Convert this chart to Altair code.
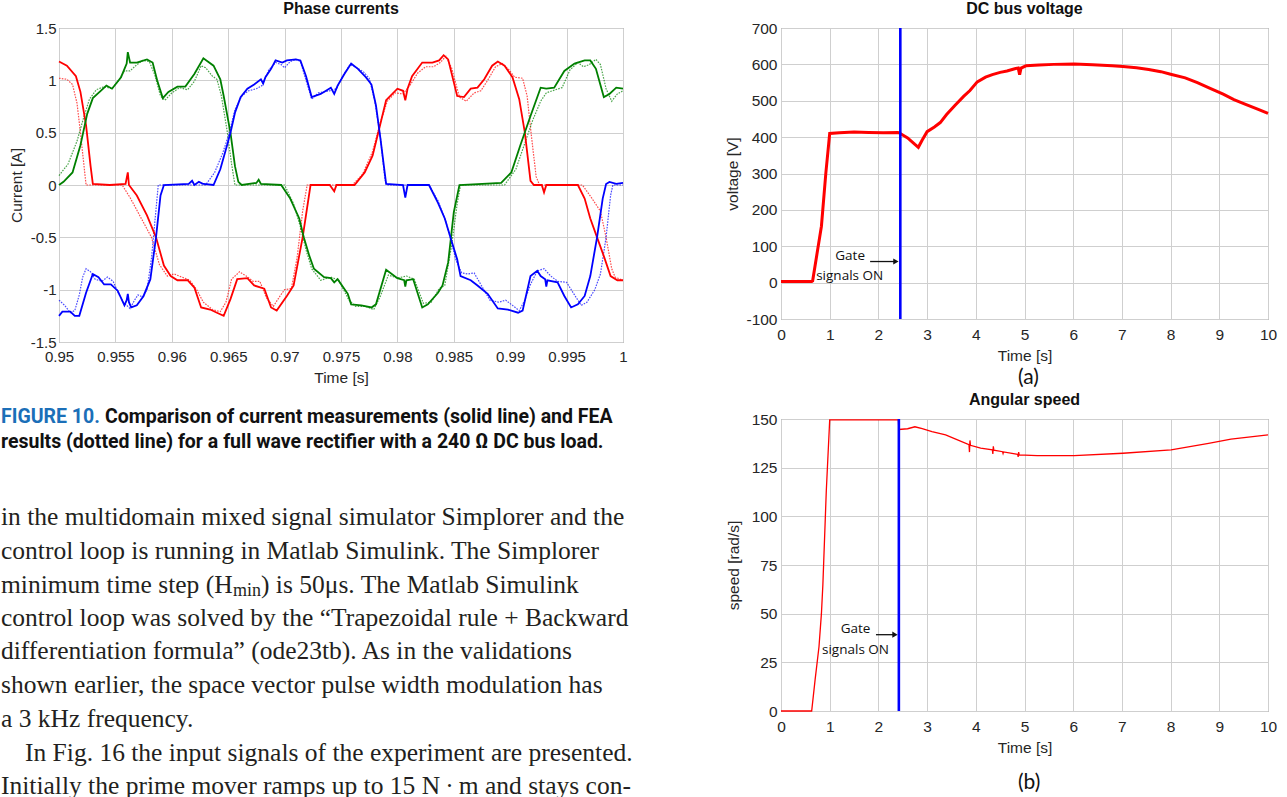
import altair as alt
import pandas as pd

# ---------------- Phase currents (time [s], current [A]) ----------------
red_meas = [[0.9500,1.18],[0.9507,1.14],[0.9515,1.04],[0.9519,0.89],[0.9524,0.57],[0.9528,0.18],[0.9530,0.01],[0.9545,0.00],[0.9559,0.01],[0.9561,0.12],[0.9562,0.00],[0.9569,-0.10],[0.9578,-0.29],[0.9586,-0.50],[0.9593,-0.77],[0.9599,-0.87],[0.9605,-0.91],[0.9614,-0.91],[0.9620,-0.98],[0.9626,-1.17],[0.9634,-1.19],[0.9640,-1.22],[0.9646,-1.25],[0.9652,-1.09],[0.9658,-0.90],[0.9667,-0.89],[0.9673,-0.96],[0.9682,-0.99],[0.9688,-1.17],[0.9693,-1.20],[0.9702,-1.06],[0.9708,-0.96],[0.9716,-0.50],[0.9723,0.00],[0.9740,0.00],[0.9744,-0.06],[0.9746,0.00],[0.9762,0.00],[0.9771,0.12],[0.9778,0.28],[0.9783,0.50],[0.9790,0.81],[0.9800,0.92],[0.9805,0.90],[0.9807,0.81],[0.9809,0.92],[0.9813,1.04],[0.9822,1.17],[0.9831,1.17],[0.9837,1.19],[0.9841,1.24],[0.9845,1.20],[0.9853,0.85],[0.9859,0.84],[0.9865,0.92],[0.9871,0.93],[0.9877,1.01],[0.9884,1.14],[0.9889,1.18],[0.9895,1.14],[0.9902,1.03],[0.9908,0.82],[0.9913,0.50],[0.9918,0.04],[0.9921,0.00],[0.9928,0.00],[0.9930,-0.07],[0.9932,0.00],[0.9960,0.00],[0.9966,-0.13],[0.9971,-0.32],[0.9977,-0.50],[0.9983,-0.68],[0.9989,-0.87],[0.9995,-0.91],[1.0000,-0.91]]
green_meas = [[0.9500,0.00],[0.9504,0.03],[0.9512,0.12],[0.9519,0.38],[0.9525,0.68],[0.9530,0.83],[0.9537,0.90],[0.9542,0.95],[0.9547,0.92],[0.9555,1.03],[0.9560,1.16],[0.9561,1.27],[0.9563,1.17],[0.9569,1.17],[0.9578,1.20],[0.9583,1.17],[0.9587,1.00],[0.9592,0.83],[0.9597,0.89],[0.9605,0.94],[0.9612,0.94],[0.9620,1.06],[0.9628,1.21],[0.9637,1.14],[0.9643,1.01],[0.9646,0.85],[0.9652,0.50],[0.9656,0.18],[0.9659,0.03],[0.9662,0.00],[0.9675,0.02],[0.9677,0.05],[0.9679,0.01],[0.9697,0.00],[0.9705,-0.13],[0.9713,-0.32],[0.9717,-0.50],[0.9722,-0.68],[0.9726,-0.80],[0.9735,-0.88],[0.9741,-0.89],[0.9744,-0.93],[0.9747,-0.90],[0.9756,-1.04],[0.9759,-1.14],[0.9768,-1.15],[0.9777,-1.17],[0.9781,-1.14],[0.9790,-0.81],[0.9800,-0.89],[0.9806,-0.91],[0.9807,-0.97],[0.9808,-0.91],[0.9814,-0.90],[0.9822,-1.17],[0.9827,-1.14],[0.9836,-1.03],[0.9840,-0.96],[0.9845,-0.74],[0.9850,-0.26],[0.9855,0.00],[0.9892,0.02],[0.9901,0.12],[0.9909,0.38],[0.9918,0.66],[0.9927,0.93],[0.9932,0.92],[0.9939,0.93],[0.9948,1.09],[0.9957,1.16],[0.9966,1.19],[0.9971,1.19],[0.9976,1.11],[0.9983,0.84],[0.9988,0.87],[0.9994,0.93],[1.0000,0.92]]
blue_meas = [[0.9500,-1.25],[0.9503,-1.21],[0.9510,-1.21],[0.9514,-1.25],[0.9518,-1.25],[0.9524,-1.03],[0.9530,-0.85],[0.9535,-0.88],[0.9540,-0.95],[0.9546,-0.95],[0.9552,-1.01],[0.9558,-1.15],[0.9560,-1.10],[0.9561,-1.04],[0.9562,-1.12],[0.9564,-1.17],[0.9569,-1.15],[0.9575,-1.06],[0.9581,-0.90],[0.9586,-0.50],[0.9590,-0.10],[0.9593,0.00],[0.9615,0.01],[0.9618,0.04],[0.9620,0.00],[0.9624,0.03],[0.9628,0.01],[0.9637,0.00],[0.9643,0.15],[0.9649,0.38],[0.9652,0.50],[0.9656,0.69],[0.9661,0.84],[0.9667,0.92],[0.9673,0.96],[0.9679,1.01],[0.9681,0.97],[0.9683,1.03],[0.9688,1.11],[0.9692,1.19],[0.9698,1.17],[0.9702,1.19],[0.9710,1.20],[0.9714,1.19],[0.9719,1.04],[0.9724,0.84],[0.9732,0.87],[0.9741,0.93],[0.9744,0.87],[0.9747,0.95],[0.9753,1.06],[0.9759,1.16],[0.9765,1.11],[0.9772,1.03],[0.9777,0.96],[0.9781,0.76],[0.9785,0.44],[0.9790,0.01],[0.9805,0.00],[0.9807,-0.12],[0.9809,0.00],[0.9828,0.00],[0.9836,-0.17],[0.9842,-0.32],[0.9847,-0.50],[0.9853,-0.71],[0.9856,-0.87],[0.9865,-0.91],[0.9871,-0.96],[0.9880,-1.04],[0.9889,-1.18],[0.9898,-1.19],[0.9907,-1.22],[0.9911,-1.20],[0.9918,-0.87],[0.9924,-0.82],[0.9927,-0.87],[0.9931,-0.90],[0.9932,-0.97],[0.9933,-0.91],[0.9942,-0.93],[0.9948,-1.06],[0.9954,-1.17],[0.9960,-1.14],[0.9966,-1.06],[0.9971,-0.87],[0.9977,-0.50],[0.9982,-0.13],[0.9985,0.01],[0.9988,0.03],[0.9994,0.01],[1.0000,0.02]]

red_fea = [[0.9500,1.02],[0.9507,1.01],[0.9512,0.96],[0.9516,0.78],[0.9519,0.50],[0.9522,0.20],[0.9524,0.00],[0.9556,0.00],[0.9563,-0.12],[0.9572,-0.30],[0.9582,-0.50],[0.9589,-0.76],[0.9596,-0.87],[0.9602,-0.85],[0.9609,-0.88],[0.9616,-0.91],[0.9622,-1.00],[0.9628,-1.12],[0.9636,-1.19],[0.9643,-1.21],[0.9648,-1.12],[0.9653,-0.90],[0.9660,-0.83],[0.9666,-0.87],[0.9672,-0.92],[0.9678,-0.92],[0.9684,-1.08],[0.9690,-1.16],[0.9696,-1.06],[0.9700,-1.00],[0.9706,-0.99],[0.9711,-0.70],[0.9716,-0.25],[0.9720,0.00],[0.9760,0.00],[0.9769,0.10],[0.9778,0.32],[0.9785,0.60],[0.9791,0.80],[0.9798,0.88],[0.9805,0.87],[0.9811,0.95],[0.9818,1.07],[0.9825,1.13],[0.9832,1.13],[0.9838,1.17],[0.9843,1.23],[0.9848,1.12],[0.9855,0.84],[0.9861,0.80],[0.9868,0.88],[0.9874,0.90],[0.9880,1.00],[0.9887,1.13],[0.9893,1.16],[0.9899,1.10],[0.9904,1.03],[0.9911,1.02],[0.9915,0.85],[0.9919,0.45],[0.9923,0.08],[0.9926,0.00],[0.9964,0.00],[0.9972,-0.12],[0.9980,-0.25],[0.9985,-0.50],[0.9990,-0.80],[0.9993,-0.88],[1.0000,-0.91]]
green_fea = [[0.9500,0.09],[0.9508,0.20],[0.9516,0.42],[0.9522,0.65],[0.9527,0.82],[0.9533,0.91],[0.9540,0.94],[0.9547,0.92],[0.9553,1.00],[0.9558,1.09],[0.9563,1.09],[0.9568,1.14],[0.9574,1.19],[0.9580,1.18],[0.9585,1.05],[0.9590,0.85],[0.9594,0.81],[0.9600,0.88],[0.9607,0.93],[0.9614,0.91],[0.9620,0.99],[0.9626,1.14],[0.9630,1.12],[0.9636,1.04],[0.9640,1.01],[0.9644,0.85],[0.9649,0.52],[0.9653,0.20],[0.9656,0.00],[0.9700,0.00],[0.9708,-0.18],[0.9714,-0.40],[0.9719,-0.62],[0.9724,-0.80],[0.9732,-0.91],[0.9741,-0.88],[0.9748,-0.91],[0.9757,-1.10],[0.9763,-1.16],[0.9772,-1.16],[0.9779,-1.19],[0.9785,-1.06],[0.9792,-0.86],[0.9800,-0.89],[0.9808,-0.87],[0.9815,-0.90],[0.9823,-1.13],[0.9830,-1.12],[0.9837,-0.99],[0.9842,-0.96],[0.9848,-0.58],[0.9853,-0.18],[0.9856,0.00],[0.9895,0.00],[0.9905,0.15],[0.9913,0.40],[0.9920,0.62],[0.9927,0.80],[0.9932,0.88],[0.9940,0.91],[0.9946,0.93],[0.9953,1.10],[0.9960,1.17],[0.9965,1.13],[0.9970,1.15],[0.9976,1.20],[0.9980,1.15],[0.9985,0.92],[0.9990,0.80],[0.9995,0.87],[1.0000,0.90]]
blue_fea = [[0.9500,-1.10],[0.9505,-1.15],[0.9510,-1.22],[0.9514,-1.20],[0.9518,-1.05],[0.9521,-0.88],[0.9524,-0.80],[0.9528,-0.83],[0.9532,-0.90],[0.9538,-0.92],[0.9543,-0.88],[0.9548,-0.92],[0.9552,-1.02],[0.9557,-1.12],[0.9563,-1.18],[0.9567,-1.10],[0.9570,-1.05],[0.9574,-1.07],[0.9578,-1.00],[0.9582,-0.70],[0.9585,-0.35],[0.9588,0.00],[0.9630,0.00],[0.9638,0.12],[0.9645,0.30],[0.9651,0.50],[0.9656,0.72],[0.9662,0.85],[0.9668,0.90],[0.9675,0.92],[0.9680,0.95],[0.9686,1.10],[0.9692,1.17],[0.9697,1.15],[0.9700,1.12],[0.9705,1.18],[0.9710,1.20],[0.9714,1.18],[0.9719,1.00],[0.9724,0.82],[0.9730,0.88],[0.9740,0.90],[0.9746,0.92],[0.9752,1.05],[0.9758,1.15],[0.9764,1.12],[0.9770,1.08],[0.9775,1.02],[0.9780,0.80],[0.9785,0.45],[0.9789,0.05],[0.9791,0.00],[0.9828,0.00],[0.9836,-0.15],[0.9843,-0.35],[0.9848,-0.55],[0.9852,-0.72],[0.9857,-0.84],[0.9862,-0.85],[0.9868,-0.84],[0.9875,-0.97],[0.9882,-1.10],[0.9890,-1.12],[0.9896,-1.10],[0.9902,-1.15],[0.9908,-1.20],[0.9913,-1.10],[0.9918,-0.95],[0.9924,-0.82],[0.9930,-0.80],[0.9936,-0.87],[0.9942,-0.92],[0.9950,-0.93],[0.9957,-1.05],[0.9963,-1.15],[0.9968,-1.12],[0.9975,-1.00],[0.9980,-0.85],[0.9985,-0.50],[0.9989,-0.10],[0.9991,0.00],[1.0000,0.00]]

x_ticks_left = [0.95, 0.955, 0.96, 0.965, 0.97, 0.975, 0.98, 0.985, 0.99, 0.995, 1.0]
y_ticks_left = [-1.5, -1.0, -0.5, 0.0, 0.5, 1.0, 1.5]

# ---------------- DC bus voltage (time [s], voltage [V]) ----------------
voltage = [[0.00,3],[0.30,3],[0.63,3],[0.65,5],[0.83,155],[0.92,300],[1.00,410],[1.20,412],[1.50,414],[1.80,413],[2.10,412],[2.40,413],[2.45,410],[2.60,398],[2.75,380],[2.82,372],[2.90,392],[3.00,415],[3.15,428],[3.27,440],[3.40,462],[3.57,487],[3.75,512],[3.88,528],[4.03,552],[4.20,565],[4.34,572],[4.50,578],[4.64,582],[4.80,588],[4.87,590],[4.90,572],[4.93,590],[5.03,596],[5.30,598],[5.60,600],[6.02,601],[6.40,599],[6.80,596],[7.02,594],[7.30,591],[7.55,586],[7.80,580],[8.00,573],[8.30,563],[8.55,550],[8.80,535],[9.08,518],[9.30,503],[9.54,490],[9.80,476],[10.00,465]]
gate_time_v = 2.45
# ---------------- Angular speed (time [s], speed [rad/s]) ----------------
speed = [[0.00,0],[0.63,0],[0.70,16],[0.78,33],[0.83,50],[0.86,65],[0.93,113],[1.00,149.5],[1.50,149.5],[2.00,149.5],[2.41,149.5],[2.42,144.6],[2.60,145.0],[2.75,146.0],[2.90,145.0],[3.10,143.5],[3.38,141.8],[3.60,139.5],[3.86,136.8],[3.87,133.0],[3.88,139.0],[3.89,136.5],[4.10,135.0],[4.34,134.2],[4.35,132.0],[4.36,136.0],[4.37,134.0],[4.55,133.2],[4.56,132.3],[4.57,133.1],[4.86,131.8],[4.87,130.5],[4.88,133.0],[4.89,131.6],[5.26,131.2],[6.02,131.2],[7.02,132.4],[8.01,134.1],[8.78,137.5],[9.24,139.7],[10.00,141.8]]
gate_time_s = 2.42

x_ticks_right = list(range(0, 11))
y_ticks_volt = [-100, 0, 100, 200, 300, 400, 500, 600, 700]
y_ticks_speed = [0, 25, 50, 75, 100, 125, 150]

# annotation anchors in data units
gate_label_v = [[1.42, 72, "Gate"], [1.41, 19, "signals ON"]]
gate_arrow_v = [[1.83, 58], [2.36, 58]]
gate_label_s = [[1.53, 42, "Gate"], [1.53, 31.5, "signals ON"]]
gate_arrow_s = [[1.95, 39.2], [2.34, 39.2]]

# ---------------- Text ----------------
caption_lead = "FIGURE 10."
caption_1 = "Comparison of current measurements (solid line) and FEA"
caption_2 = "results (dotted line) for a full wave rectifier with a 240 \u03a9 DC bus load."
para_lines = [
    "in the multidomain mixed signal simulator Simplorer and the",
    "control loop is running in Matlab Simulink. The Simplorer",
    None,
    "control loop was solved by the \u201cTrapezoidal rule + Backward",
    "differentiation formula\u201d (ode23tb). As in the validations",
    "shown earlier, the space vector pulse width modulation has",
    "a 3 kHz frequency.",
    "In Fig. 16 the input signals of the experiment are presented.",
    "Initially the prime mover ramps up to 15 N\u2009\u00b7\u2009m and stays con-",
]
line3_parts = ["minimum time step (H", "min", ") is 50\u03bcs. The Matlab Simulink"]

TXT = "#262626"
GRID = "#cfcfcf"
SANS = "Liberation Sans"
SERIF = "Liberation Serif"
NEG = "datum.value < 0 ? '-' + format(-datum.value, '~g') : format(datum.value, '~g')"


def axis(values, title, fmt=None, lexpr=None, size=15, lp=4, tp=8):
    kw = dict(values=values, tickCount=len(values) + 2, title=title, grid=True, gridColor=GRID, gridWidth=1,
              ticks=False, tickSize=0, domain=False, labelFont=SANS, labelFontSize=size,
              labelColor=TXT, labelPadding=lp, labelOverlap=False, labelFlush=False,
              titleFont=SANS, titleFontSize=15.5, titleFontWeight="normal",
              titleColor=TXT, titlePadding=tp)
    if fmt:
        kw["format"] = fmt
    if lexpr:
        kw["labelExpr"] = lexpr
    return alt.Axis(**kw)


def frame(pairs, phase, kind):
    return pd.DataFrame({"t": [p[0] for p in pairs], "i": [p[1] for p in pairs],
                         "phase": phase, "series": phase + kind})


cur_meas = pd.concat([frame(red_meas, "a", "m"), frame(green_meas, "b", "m"), frame(blue_meas, "c", "m")])
cur_fea = pd.concat([frame(red_fea, "a", "f"), frame(green_fea, "b", "f"), frame(blue_fea, "c", "f")])

colour = alt.Color("phase:N", scale=alt.Scale(domain=["a", "b", "c"], range=["#ff0000", "#008000", "#0000ff"]), legend=None)
axL_x = axis(x_ticks_left, "Time [s]", fmt=".3~f", lp=7, tp=6)
axL_y = axis(y_ticks_left, "Current [A]", lexpr=NEG, lp=3, tp=6)
xL = alt.X("t:Q", scale=alt.Scale(domain=[0.95, 1.0], nice=False, zero=False), axis=axL_x)
yL = alt.Y("i:Q", scale=alt.Scale(domain=[-1.5, 1.5], nice=False), axis=axL_y)

fea = alt.Chart(cur_fea).mark_line(strokeWidth=1.2, strokeDash=[1.6, 1.2], opacity=0.7).encode(
    x=xL, y=yL, color=colour, detail="series:N")
meas = alt.Chart(cur_meas).mark_line(strokeWidth=1.8).encode(
    x=xL, y=yL, color=colour, detail="series:N")


def txt(s, x, y, font=SERIF, size=25.5, color="#231f20", weight="normal"):
    return alt.Chart(pd.DataFrame({"text": [s]})).mark_text(
        align="left", baseline="middle", font=font, fontSize=size, color=color, fontWeight=weight
    ).encode(x=alt.value(x), y=alt.value(y), text="text:N")


OX, OY = 58, 29
CAP_FONT = "Liberation Sans Narrow, Roboto, sans-serif"
texts = [
    txt(caption_lead, 0 - OX, 418 - OY, font=CAP_FONT, size=19.5, color="#1b6fb8", weight="bold"),
    txt(caption_1, 104 - OX, 418 - OY, font=CAP_FONT, size=19.5, color="#111111", weight="bold"),
    txt(caption_2, 0 - OX, 443 - OY, font=CAP_FONT, size=19.5, color="#111111", weight="bold"),
]
line_y = [518, 552, 586, 619, 652, 686, 720, 754, 787]
for k, s in enumerate(para_lines):
    if s is None:
        continue
    x0 = 24 if s.startswith("In Fig") else 0
    texts.append(txt(s, x0 - OX, line_y[k] - OY))
texts.append(txt(line3_parts[0], 0 - OX, 586 - OY))
texts.append(txt(line3_parts[1], 232 - OX, 592 - OY, size=18))
texts.append(txt(line3_parts[2], 260 - OX, 586 - OY))

left = alt.layer(fea, meas, *texts).properties(
    width=564, height=314,
    title=alt.TitleParams("Phase currents", font=SANS, fontSize=16, fontWeight="bold", color="#111111", offset=4, anchor="middle"))


# ---------------- right charts ----------------
def annot(labels, arrow, gate_t, X, Y):
    lab = pd.DataFrame({"t": [a[0] for a in labels], "v": [a[1] for a in labels], "text": [a[2] for a in labels]})
    arr = pd.DataFrame({"t": [a[0] for a in arrow], "v": [a[1] for a in arrow]})
    head = arr.tail(1)
    g = alt.Chart(pd.DataFrame({"t": [gate_t]})).mark_rule(color="#0000ff", strokeWidth=2.6).encode(x=X)
    t = alt.Chart(lab).mark_text(font="Open Sans", fontSize=13.5, color="#111111", align="center", baseline="middle").encode(
        x=X, y=Y, text="text:N")
    a = alt.Chart(arr).mark_line(color="#111111", strokeWidth=1.3).encode(x=X, y=Y)
    h = alt.Chart(head).mark_point(shape="triangle-right", filled=True, size=38, color="#111111", opacity=1).encode(x=X, y=Y)
    return [g, t, a, h]


vdf = pd.DataFrame({"t": [p[0] for p in voltage], "v": [p[1] for p in voltage]})
xR1 = alt.X("t:Q", scale=alt.Scale(domain=[0, 10], nice=False), axis=axis(x_ticks_right, "Time [s]", fmt="d", size=15.5, lp=8, tp=6))
yR1 = alt.Y("v:Q", scale=alt.Scale(domain=[-100, 700], nice=False), axis=axis(y_ticks_volt, "voltage [V]", lexpr=NEG, size=15.5, lp=4, tp=5))
vline = alt.Chart(vdf).mark_line(color="#ff0000", strokeWidth=3).encode(x=xR1, y=yR1)
lab_a = txt("(a)", 237, 350, font="Lato", size=21, color="#111111")
top = alt.layer(vline, *annot(gate_label_v, gate_arrow_v, gate_time_v, xR1, yR1), lab_a).properties(
    width=487, height=291,
    title=alt.TitleParams("DC bus voltage", font=SANS, fontSize=16, fontWeight="bold", color="#111111", offset=4, anchor="middle"))

sdf = pd.DataFrame({"t": [p[0] for p in speed], "v": [p[1] for p in speed]})
xR2 = alt.X("t:Q", scale=alt.Scale(domain=[0, 10], nice=False), axis=axis(x_ticks_right, "Time [s]", fmt="d", size=15.5, lp=8, tp=6))
yR2 = alt.Y("v:Q", scale=alt.Scale(domain=[0, 150], nice=False), axis=axis(y_ticks_speed, "speed [rad/s]", lexpr=NEG, size=15.5, lp=4, tp=10))
sline = alt.Chart(sdf).mark_line(color="#ff0000", strokeWidth=1.3).encode(x=xR2, y=yR2)
lab_b = txt("(b)", 237, 364, font="Lato", size=21, color="#111111")
bot = alt.layer(sline, *annot(gate_label_s, gate_arrow_s, gate_time_s, xR2, yR2), lab_b).properties(
    width=487, height=292,
    title=alt.TitleParams("Angular speed", font=SANS, fontSize=16, fontWeight="bold", color="#111111", offset=4, anchor="middle"))

right = alt.vconcat(top, bot, spacing=100, bounds="flush")
chart = alt.hconcat(left, right, spacing=158, bounds="flush").properties(
    padding={"left": 0, "top": 0, "right": 0, "bottom": 0}, background="white"
).configure_view(stroke="#7a7a7a", strokeWidth=1)

chart.save("out.html", embed_options={"renderer": "svg", "actions": False})
